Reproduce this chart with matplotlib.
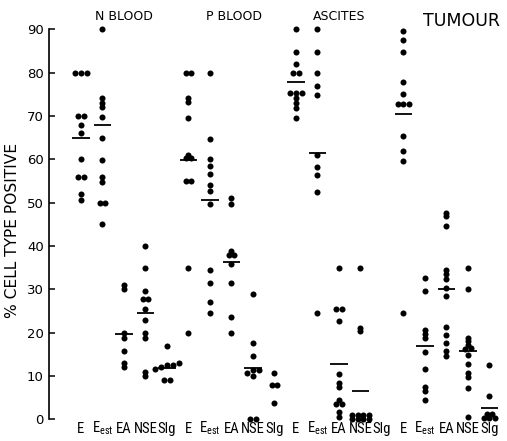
import matplotlib
matplotlib.use("Agg")
import matplotlib.pyplot as plt
from matplotlib import font_manager
import numpy as np

plt.rcParams['font.family'] = ['DejaVu Sans']
plt.rcParams['mathtext.default'] = 'regular'

# ---------------- data ----------------
groups = ["N BLOOD", "P BLOOD", "ASCITES", "TUMOUR"]
cell_types = ["E", "E$_{est}$", "EA", "NSE", "SIg"]

n_blood = [
    [80, 80, 80, 70, 70, 68, 66, 60, 56, 56, 52, 50.5],
    [90, 74.2, 73.1, 72, 69.8, 64.8, 59.8, 56, 54.8, 50, 50, 45],
    [31, 30, 20, 18.7, 15.8, 12.9, 12.1],
    [40, 35, 29.7, 27.7, 27.7, 25.5, 23, 20, 18.7, 11, 10],
    [17, 13, 12.5, 12.5, 12, 11.5, 9, 9],
]
n_blood_means = [64.8, 67.8, 19.6, 24.5, 11.9]

p_blood = [
    [80, 80, 74.2, 73.2, 69.5, 61, 60.3, 60.3, 55, 55, 35, 20],
    [80, 64.7, 60, 58.5, 56.6, 54, 52.7, 49.6, 34.5, 31.5, 27, 24.6],
    [51, 49.6, 38.9, 38, 38, 35.8, 31.5, 23.6, 19.8],
    [28.8, 17.5, 14.7, 11.4, 11.4, 10.8, 10, 0, 0],
    [10.6, 8, 8, 3.7],
]
p_blood_means = [59.8, 50.6, 36.3, 11.8, None]

ascites = [
    [90, 84.8, 82, 79.8, 79.8, 75.3, 75.3, 75.3, 74.1, 72.9, 71.8, 69.6],
    [90, 84.7, 79.8, 77, 74.8, 61, 58.3, 56.4, 52.5, 24.6],
    [34.8, 25.4, 25.4, 22.7, 10.5, 8.3, 7.5, 4.5, 3.5, 3.5, 1.8, 0.6],
    [34.8, 21.1, 20.4, 1.0, 1.0, 1.0, 1.0, 0, 0, 0, 0],
    [],
]
ascites_means = [77.8, 61.5, 12.7, 6.5, None]

tumour = [
    [89.6, 87.5, 84.7, 77.8, 75.1, 72.8, 72.8, 72.8, 65.4, 61.8, 59.6, 24.5],
    [32.5, 29.5, 20.6, 19.7, 18.8, 15.6, 11.5, 7.5, 6.5, 4.5],
    [47.5, 46.8, 44.5, 34.5, 33.5, 32.3, 30.3, 28.5, 21.4, 19.5, 17.6, 15.7, 14.5],
    [35, 30, 18.7, 18, 17.2, 16.5, 16.2, 14.8, 12.7, 10.6, 9.8, 7.3, 0.6],
    [12.6, 5.4, 1.2, 1.2, 0.2, 0.2, 0.2],
]
tumour_means = [70.4, 16.9, 30.0, 15.8, 2.7]

all_values = [n_blood, p_blood, ascites, tumour]
all_means = [n_blood_means, p_blood_means, ascites_means, tumour_means]


def pick_font(cands):
    for c in cands:
        try:
            font_manager.findfont(font_manager.FontProperties(family=c),
                                  fallback_to_default=False)
            return c
        except Exception:
            continue
    return 'DejaVu Sans'


narrow = pick_font(['Liberation Sans Narrow', 'DejaVu Sans Condensed',
                    'Roboto Condensed', 'Liberation Sans'])
label_size = 10.5 if narrow != 'Liberation Sans' else 9.3

# ---------------- figure ----------------
fig = plt.figure(figsize=(5.07, 4.41), dpi=100)
ax = fig.add_axes([0.0972, 0.0492, 0.8988, 0.8844])
ax.set_xlim(-1.474, 19.72)
ax.set_ylim(0, 90)


def swarm_offsets(vals, tol=0.6, step=0.27):
    vals = np.asarray(vals, dtype=float)
    offs = np.zeros(len(vals))
    order = np.argsort(vals)
    groups_idx = []
    cur = []
    for i in order:
        if cur and abs(vals[i] - vals[cur[-1]]) > tol:
            groups_idx.append(cur)
            cur = []
        cur.append(i)
    if cur:
        groups_idx.append(cur)
    for g in groups_idx:
        n = len(g)
        for j, i in enumerate(g):
            offs[i] = (j - (n - 1) / 2) * step
    return offs


for g, (vals_list, means) in enumerate(zip(all_values, all_means)):
    for k, (vals, m) in enumerate(zip(vals_list, means)):
        pos = g * 5 + k
        if len(vals):
            offs = swarm_offsets(vals)
            ax.scatter(pos + offs, vals, s=19, c='black', linewidths=0,
                       clip_on=False, zorder=3)
        if m is not None:
            ax.hlines(m, pos - 0.4, pos + 0.4, color='black', lw=1.3, zorder=2)

# axes styling
for s in ['top', 'right', 'bottom']:
    ax.spines[s].set_visible(False)
ax.spines['left'].set_linewidth(1.2)
ax.set_yticks(np.arange(0, 91, 10))
ax.tick_params(axis='y', direction='in', length=4, width=1.1, labelsize=9.5, pad=4)
ax.set_xticks([])

# category labels
for g in range(len(groups)):
    for k, lab in enumerate(cell_types):
        ax.text(g * 5 + k, -0.035, lab, transform=ax.get_xaxis_transform(),
                ha='center', va='baseline', fontsize=label_size,
                family=[narrow, 'DejaVu Sans'])

# group titles
title_x = [2, 2.1, 2, 2.7]
title_y = [1.034, 1.034, 1.034, 1.02]
title_size = [9, 9, 9, 12.5]
for g, name in enumerate(groups):
    ax.text(g * 5 + title_x[g], title_y[g], name, transform=ax.get_xaxis_transform(),
            ha='center', va='center', fontsize=title_size[g])

fig.text(12.5 / 507, 211 / 441, "% CELL TYPE POSITIVE", rotation=90,
         ha='center', va='center', fontsize=11.2)

fig.savefig("out.png", dpi=100)
